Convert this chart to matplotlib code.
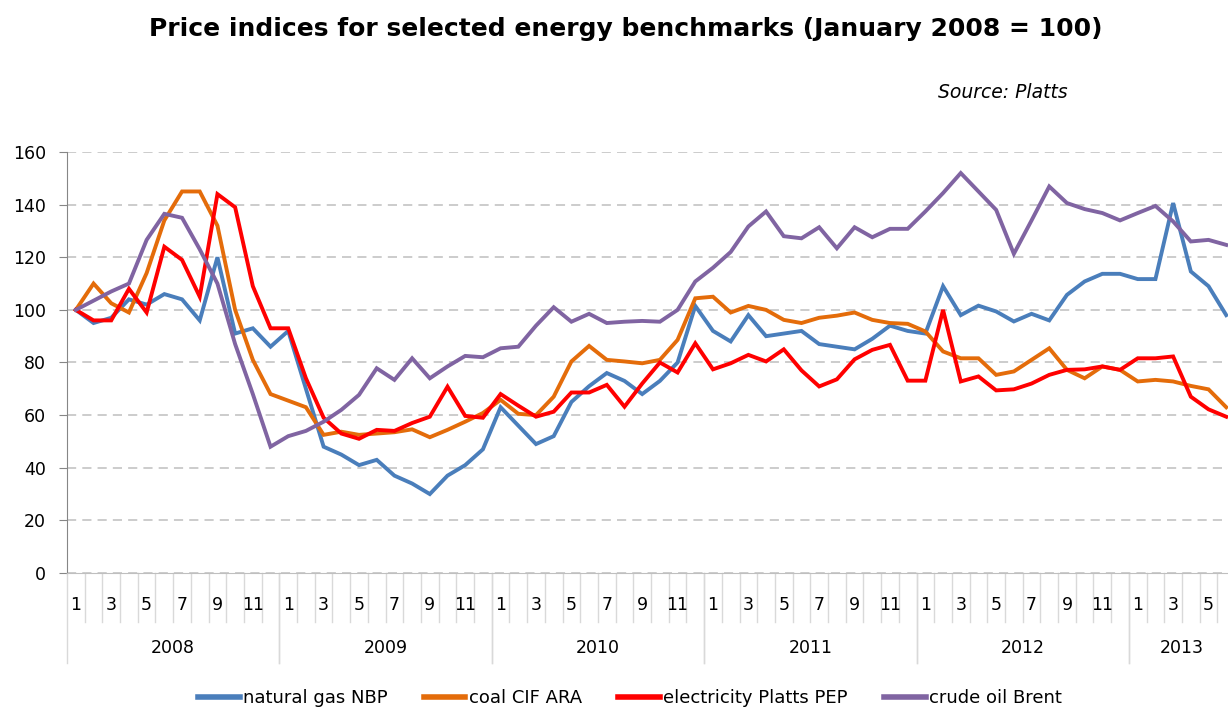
import matplotlib
matplotlib.use('Agg')
import matplotlib.pyplot as plt
import matplotlib.transforms as mtransforms
import numpy as np

plt.rcParams['font.family'] = 'DejaVu Sans'

# Monthly index values, January 2008 .. June 2013
years = [2008, 2009, 2010, 2011, 2012, 2013]
months_per_year = [12, 12, 12, 12, 12, 6]

gas_nbp = [100, 95, 97, 104, 102, 106, 104, 96, 120, 91, 93, 86,
           92, 70, 48, 45, 41, 43, 37, 34, 30, 37, 41, 47,
           63, 56, 49, 52, 65, 71, 76, 73, 68, 73, 80, 101.5,
           92, 88, 98, 90, 91, 92, 87, 86, 85, 89, 94, 92,
           91, 109, 98, 101.6, 99.4, 95.6, 98.5, 96, 105.7, 110.8, 113.7, 113.7,
           111.7, 111.7, 140.6, 114.6, 109, 98]

coal_ara = [100, 110, 102.5, 99, 114, 134, 145, 145, 132, 100, 81, 68,
            65.5, 63, 52.5, 53.7, 52.5, 53, 53.5, 54.6, 51.6, 54.4, 57.5, 60.8,
            65.8, 60.5, 60, 67, 80.4, 86.3, 81, 80.4, 79.7, 81, 88.6, 104.4,
            105, 99, 101.5, 100, 96.2, 95, 97, 97.8, 99, 96.2, 95, 94.7,
            91.8, 84.2, 81.6, 81.6, 75.3, 76.6, 81, 85.4, 77.2, 74, 78.5, 77.2,
            72.8, 73.4, 72.8, 71.1, 69.8, 63]

elec_pep = [100, 96, 96, 108, 99, 124, 119, 105, 144, 139, 109, 93,
            93, 74, 59, 53, 51, 54.4, 54, 57, 59.4, 70.8, 59.7, 59,
            68, 63.6, 59.4, 61.3, 68.6, 68.6, 71.5, 63.2, 72, 80, 76.2, 87.3,
            77.4, 79.7, 82.9, 80.4, 85, 77, 70.9, 73.6, 81.2, 84.8, 86.7, 73.1,
            73.1, 100, 72.8, 74.7, 69.4, 69.8, 72, 75.3, 77.2, 77.4, 78.5, 77.2,
            81.6, 81.6, 82.3, 67, 62.2, 59.4]

oil_brent = [100, 103.5, 107, 110, 126.6, 136.5, 135, 123, 110, 87, 68, 48,
             52, 54, 57.5, 62, 67.7, 77.8, 73.4, 81.6, 74, 78.5, 82.5, 82,
             85.4, 86, 94, 101, 95.5, 98.5, 95, 95.5, 95.8, 95.5, 100, 110.8,
             116, 122, 131.7, 137.4, 128, 127.2, 131.4, 123.4, 131.4, 127.6, 130.8, 130.8,
             137.4, 144.4, 152, 145, 138, 121.3, 134, 146.9, 140.6, 138.3, 136.8, 134,
             136.8, 139.5, 133.6, 126, 126.6, 124.7]

series = [
    ('natural gas NBP', gas_nbp, '#4A7EBB'),
    ('coal CIF ARA', coal_ara, '#E46C0A'),
    ('electricity Platts PEP', elec_pep, '#FF0000'),
    ('crude oil Brent', oil_brent, '#8064A2'),
]

n = len(gas_nbp)
x = np.arange(n) + 0.5

fig = plt.figure(figsize=(12.28, 7.08), dpi=100)
ax = fig.add_axes([67 / 1228, 1 - 573 / 708, 1 - 67 / 1228, (573 - 152) / 708])

for label, vals, color in series:
    ax.plot(x, vals, color=color, linewidth=2.8, label=label, solid_joinstyle='miter')

ax.set_xlim(0, 65.6)
ax.set_ylim(0, 160)
ax.set_yticks(np.arange(0, 161, 20))
ax.tick_params(axis='y', labelsize=12.5, length=6, color='#868686', pad=9)
ax.set_xticks([])
ax.yaxis.grid(True, linestyle=(0, (6, 4)), color='#BFBFBF', linewidth=1.1)
ax.set_axisbelow(True)

for side in ['top', 'right']:
    ax.spines[side].set_visible(False)
ax.spines['left'].set_color('#868686')
ax.spines['bottom'].set_color('#BFBFBF')

# two-level category axis: months, then years
trans = mtransforms.blended_transform_factory(ax.transData, ax.transAxes)
edge = 0
for yr, cnt in zip(years, months_per_year):
    for m in range(cnt + 1):
        b = edge + m
        depth = -0.214 if m == 0 or m == cnt else -0.116
        ax.plot([b, b], [0, depth], transform=trans, color='#D9D9D9',
                linewidth=1, clip_on=False)
    for m in range(1, cnt + 1, 2):
        ax.text(edge + m - 0.5, -0.076, str(m), transform=trans,
                ha='center', va='center', fontsize=12.5)
    ax.text(edge + cnt / 2, -0.178, str(yr), transform=trans,
            ha='center', va='center', fontsize=12.5)
    edge += cnt

fig.text(626 / 1228, 1 - 29 / 708,
         'Price indices for selected energy benchmarks (January 2008 = 100)',
         ha='center', va='center', fontsize=18, fontweight='bold')
fig.text(1068 / 1228, 1 - 93 / 708, 'Source: Platts', ha='right', va='center',
         fontsize=13.5, style='italic')

leg = fig.legend(loc='center', bbox_to_anchor=(630 / 1228, 1 - 698 / 708), ncol=4,
                 frameon=False, fontsize=13, handlelength=2.3, handletextpad=0.2,
                 columnspacing=2.0)
for line in leg.get_lines():
    line.set_linewidth(4)

plt.savefig('out.png', dpi=100)
